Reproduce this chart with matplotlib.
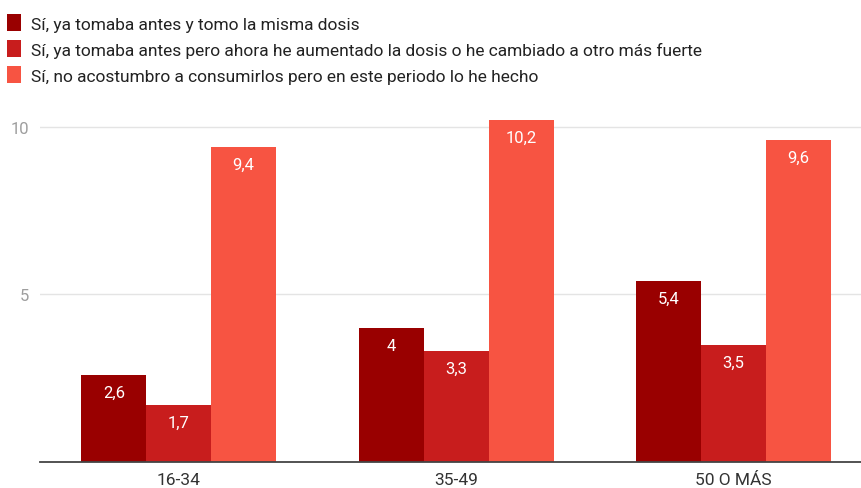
import numpy as np
import matplotlib.pyplot as plt

plt.rcParams['font.family'] = ['Roboto', 'DejaVu Sans']

grupos = ['16-34', '35-49', '50 O MÁS']
series = [
    'Sí, ya tomaba antes y tomo la misma dosis',
    'Sí, ya tomaba antes pero ahora he aumentado la dosis o he cambiado a otro más fuerte',
    'Sí, no acostumbro a consumirlos pero en este periodo lo he hecho',
]
misma_dosis = [2.6, 4.0, 5.4]
aumentado = [1.7, 3.3, 3.5]
nuevo = [9.4, 10.2, 9.6]
colores = ['#990000', '#c81d1d', '#f75442']

fig = plt.figure(figsize=(8.61, 4.89), dpi=100)
ax = fig.add_axes([40/861, 26/489, 821/861, 362/489])

x = np.arange(len(grupos))
w = 0.234
valores = [misma_dosis, aumentado, nuevo]
for i, (vals, lab, c) in enumerate(zip(valores, series, colores)):
    bars = ax.bar(x + (i - 1) * w, vals, w, color=c, label=lab, zorder=3)
    for b, v in zip(bars, vals):
        txt = ('%g' % v).replace('.', ',')
        ax.annotate(txt, (b.get_x() + b.get_width() / 2, v), xytext=(0, -7),
                    textcoords='offset points', ha='center', va='top',
                    color='white', fontsize=12, zorder=4)

ax.set_xlim(-0.5, 2.459)
ax.set_ylim(0, 10.8)
ax.set_yticks([5, 10])
ax.set_xticks(x)
ax.set_xticklabels(grupos)
ax.grid(axis='y', color='#e4e4e4', linewidth=1, zorder=0)
for s in ['top', 'right', 'left']:
    ax.spines[s].set_visible(False)
ax.spines['bottom'].set_color('#444444')
ax.spines['bottom'].set_linewidth(1.3)
ax.spines['bottom'].set_zorder(5)
ax.tick_params(axis='y', length=0, pad=8, labelsize=12, labelcolor='#9e9e9e')
ax.tick_params(axis='x', length=0, pad=7, labelsize=12.5, labelcolor='#333333')

fig.legend(loc='upper left', bbox_to_anchor=(4/861, 1 - 12/489), frameon=False,
           fontsize=12.5, handlelength=0.8, handleheight=1.1, handletextpad=0.55,
           labelspacing=0.5, borderaxespad=0, borderpad=0.2, labelcolor='#222222')

fig.savefig('out.png', dpi=100)
